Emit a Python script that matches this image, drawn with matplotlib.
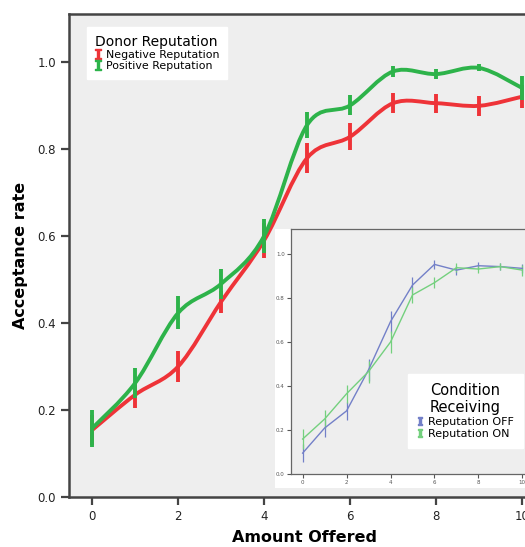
import matplotlib
matplotlib.use('Agg')
import matplotlib.pyplot as plt
from matplotlib.path import Path
from matplotlib.patches import PathPatch
from matplotlib.lines import Line2D
import numpy as np

# main chart data
offers = [0, 1, 2, 3, 4, 5, 6, 7, 8, 9, 10]
neg_rate = [0.154, 0.235, 0.30, 0.449, 0.59, 0.779, 0.828, 0.905, 0.905, 0.899, 0.92]
neg_err = [0.035, 0.03, 0.036, 0.025, 0.04, 0.035, 0.031, 0.023, 0.022, 0.023, 0.027]
pos_rate = [0.158, 0.262, 0.423, 0.49, 0.60, 0.855, 0.90, 0.978, 0.972, 0.986, 0.94]
pos_err = [0.042, 0.034, 0.038, 0.035, 0.04, 0.029, 0.023, 0.012, 0.012, 0.008, 0.027]

# inset data
inset_off = [0.095, 0.209, 0.287, 0.474, 0.693, 0.859, 0.953, 0.927, 0.947, 0.943, 0.935]
inset_off_err = [0.04, 0.04, 0.04, 0.05, 0.05, 0.035, 0.02, 0.02, 0.015, 0.015, 0.02]
inset_on = [0.159, 0.25, 0.365, 0.466, 0.60, 0.814, 0.87, 0.938, 0.932, 0.943, 0.927]
inset_on_err = [0.045, 0.04, 0.04, 0.05, 0.05, 0.035, 0.025, 0.02, 0.02, 0.015, 0.025]

RED = '#ee3338'
GREEN = '#2db34a'
BLUE_I = '#7380c8'
GREEN_I = '#74d07e'
BG = '#eeeeee'
FRAME = '#444444'

W, H = 525, 547


def smooth_path(xs, ys):
    # catmull-rom through the points, drawn as cubic bezier segments
    pts = np.column_stack([xs, ys]).astype(float)
    verts = [pts[0]]
    codes = [Path.MOVETO]
    n = len(pts)
    for i in range(n - 1):
        p0 = pts[i - 1] if i > 0 else pts[i]
        p1 = pts[i]
        p2 = pts[i + 1]
        p3 = pts[i + 2] if i + 2 < n else pts[i + 1]
        c1 = p1 + (p2 - p0) / 6
        c2 = p2 - (p3 - p1) / 6
        verts += [c1, c2, p2]
        codes += [Path.CURVE4] * 3
    return Path(verts, codes)


fig = plt.figure(figsize=(W / 100, H / 100), dpi=100)

ax = fig.add_axes([69 / W, 1 - 497 / H, 1 - 69 / W + 0.01, (497 - 14) / H])
ax.set_facecolor(BG)
ax.set_xlim(-0.54, 10.19)
ax.set_ylim(0, 1.11)

for rate, err, col in [(neg_rate, neg_err, RED), (pos_rate, pos_err, GREEN)]:
    ax.add_patch(PathPatch(smooth_path(offers, rate), fill=False, edgecolor=col,
                           lw=2.8, capstyle='round', zorder=3))
    ax.errorbar(offers, rate, yerr=err, fmt='none', ecolor=col, elinewidth=2.8,
                capsize=0, zorder=3)

ax.set_xticks([0, 2, 4, 6, 8, 10])
ax.set_yticks([0.0, 0.2, 0.4, 0.6, 0.8, 1.0])
ax.set_yticklabels(['0.0', '0.2', '0.4', '0.6', '0.8', '1.0'])
ax.tick_params(direction='out', length=6, width=1.6, color=FRAME, labelsize=8.5,
               labelcolor='#222222')
for s in ax.spines.values():
    s.set_color(FRAME)
    s.set_linewidth(1.8)

fig.text(20 / W, 1 - 255 / H, 'Acceptance rate', rotation=90, ha='center', va='center',
         fontsize=11.5, fontweight='bold')
fig.text(304 / W, 1 - 537 / H, 'Amount Offered', ha='center', va='center',
         fontsize=11.5, fontweight='bold')

handles = [Line2D([], [], color=RED, marker='$\\mathtt{I}$', ms=7, ls='none'),
           Line2D([], [], color=GREEN, marker='$\\mathtt{I}$', ms=7, ls='none')]
leg = ax.legend(handles, ['Negative Reputation', 'Positive Reputation'],
                title='Donor Reputation', loc='upper left',
                bbox_to_anchor=(87 / W, 1 - 27 / H), bbox_transform=fig.transFigure,
                borderaxespad=0, fontsize=7.9, title_fontsize=10, frameon=True,
                fancybox=False, framealpha=1, edgecolor='white', facecolor='white',
                handlelength=0.6, handletextpad=0.4, labelspacing=0.1,
                borderpad=0.7, alignment='left')
leg.set_zorder(5)

# inset panel (white backing) and inset axes
panel = fig.add_axes([275 / W, 1 - 488 / H, 1 - 275 / W + 0.01, (488 - 229) / H])
panel.set_facecolor('white')
panel.set_xticks([])
panel.set_yticks([])
for s in panel.spines.values():
    s.set_visible(False)
panel.set_zorder(6)

ins = fig.add_axes([291 / W, 1 - 474 / H, 1 - 291 / W + 0.01, (474 - 229) / H])
ins.set_zorder(7)
ins.set_facecolor(BG)
ins.set_xlim(-0.53, 10.36)
ins.set_ylim(0, 1.114)
ins.errorbar(offers, inset_off, yerr=inset_off_err, color=BLUE_I, lw=1.0,
             elinewidth=0.9, capsize=0)
ins.errorbar(offers, inset_on, yerr=inset_on_err, color=GREEN_I, lw=1.0,
             elinewidth=0.9, capsize=0)
ins.set_xticks([0, 2, 4, 6, 8, 10])
ins.set_yticks([0.0, 0.2, 0.4, 0.6, 0.8, 1.0])
ins.set_yticklabels(['0.0', '0.2', '0.4', '0.6', '0.8', '1.0'])
ins.tick_params(direction='out', length=3, width=0.8, color='#555555', labelsize=4,
                labelcolor='#555555', pad=1.5)
for s in ins.spines.values():
    s.set_color('#666666')
    s.set_linewidth(0.9)

ihandles = [Line2D([], [], color=BLUE_I, marker='$\\mathtt{I}$', ms=6, ls='none'),
            Line2D([], [], color=GREEN_I, marker='$\\mathtt{I}$', ms=6, ls='none')]
ileg = ins.legend(ihandles, ['Reputation OFF', 'Reputation ON'],
                  title='Condition\nReceiving', loc='upper left',
                  bbox_to_anchor=(408 / W, 1 - 374 / H), bbox_transform=fig.transFigure,
                  borderaxespad=0, fontsize=8, title_fontsize=10.5, frameon=True,
                  fancybox=False, framealpha=1, edgecolor='white', facecolor='white',
                  handlelength=0.6, handletextpad=0.4, labelspacing=0.15,
                  borderpad=0.8)

fig.savefig('out.png', dpi=100)
